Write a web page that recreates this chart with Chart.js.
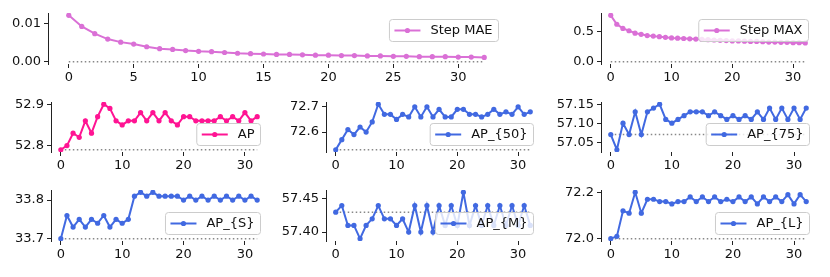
<!DOCTYPE html>
<html>
<head>
<meta charset="utf-8">
<script src="https://cdn.jsdelivr.net/npm/chart.js@4.4.0/dist/chart.umd.min.js"></script>
<style>
  html, body { margin: 0; padding: 0; background: #fff; }
  #fig { position: relative; width: 830px; height: 277px; overflow: hidden; }
  #fig canvas { position: absolute; }
</style>
</head>
<body>
<div id="fig"></div>
<script>
const steps = [0, 1, 2, 3, 4, 5, 6, 7, 8, 9, 10, 11, 12, 13, 14, 15, 16,
  17, 18, 19, 20, 21, 22, 23, 24, 25, 26, 27, 28, 29, 30, 31, 32];

const stepMae = [0.0121, 0.0092, 0.0073, 0.0059, 0.0051, 0.0046, 0.0039, 0.0034, 0.0032, 0.0029, 0.0027,
  0.0026, 0.0024, 0.0022, 0.0021, 0.0020, 0.0019, 0.0019, 0.0018, 0.0017, 0.0017, 0.0016,
  0.0016, 0.0015, 0.0015, 0.0014, 0.0014, 0.0013, 0.0013, 0.0013, 0.0012, 0.0012, 0.0011];
const stepMax = [0.78, 0.63, 0.56, 0.52, 0.48, 0.46, 0.44, 0.43, 0.42, 0.41, 0.40,
  0.395, 0.39, 0.385, 0.38, 0.375, 0.37, 0.365, 0.36, 0.355, 0.35, 0.35,
  0.345, 0.34, 0.34, 0.335, 0.33, 0.33, 0.325, 0.325, 0.32, 0.32, 0.315];
const ap = [52.79, 52.80, 52.83, 52.82, 52.86, 52.83, 52.87, 52.90, 52.89, 52.86, 52.85,
  52.86, 52.86, 52.88, 52.86, 52.88, 52.86, 52.88, 52.86, 52.85, 52.87, 52.87,
  52.86, 52.86, 52.86, 52.86, 52.87, 52.86, 52.87, 52.86, 52.88, 52.86, 52.87];
const ap50 = [72.53, 72.57, 72.61, 72.59, 72.62, 72.60, 72.64, 72.71, 72.67, 72.67, 72.65,
  72.67, 72.66, 72.70, 72.66, 72.70, 72.66, 72.69, 72.66, 72.66, 72.69, 72.69,
  72.67, 72.67, 72.66, 72.67, 72.69, 72.67, 72.68, 72.67, 72.70, 72.67, 72.68];
const ap75 = [57.07, 57.03, 57.10, 57.07, 57.13, 57.07, 57.13, 57.14, 57.15, 57.11, 57.10,
  57.11, 57.12, 57.13, 57.13, 57.13, 57.12, 57.13, 57.12, 57.11, 57.12, 57.11,
  57.12, 57.11, 57.13, 57.11, 57.14, 57.11, 57.14, 57.11, 57.14, 57.11, 57.14];
const apS = [33.70, 33.76, 33.73, 33.75, 33.73, 33.75, 33.74, 33.76, 33.73, 33.75, 33.74,
  33.75, 33.81, 33.82, 33.81, 33.82, 33.81, 33.81, 33.81, 33.81, 33.80, 33.81,
  33.80, 33.81, 33.80, 33.81, 33.80, 33.81, 33.80, 33.81, 33.80, 33.81, 33.80];
const apM = [57.43, 57.44, 57.41, 57.41, 57.39, 57.41, 57.42, 57.44, 57.42, 57.42, 57.41,
  57.42, 57.40, 57.44, 57.40, 57.44, 57.40, 57.44, 57.41, 57.44, 57.41, 57.46,
  57.41, 57.44, 57.41, 57.44, 57.41, 57.44, 57.41, 57.44, 57.41, 57.44, 57.41];
const apL = [72.00, 72.01, 72.12, 72.11, 72.20, 72.11, 72.17, 72.17, 72.16, 72.16, 72.15,
  72.16, 72.16, 72.18, 72.16, 72.18, 72.16, 72.18, 72.16, 72.17, 72.16, 72.18,
  72.16, 72.18, 72.15, 72.18, 72.16, 72.18, 72.16, 72.19, 72.15, 72.19, 72.16];

// tick labels
const maeYTicks = ["0.00", "0.01"];
const maxYTicks = ["0.0", "0.5"];
const apYTicks = ["52.8", "52.9"];
const ap50YTicks = ["72.6", "72.7"];
const ap75YTicks = ["57.05", "57.10", "57.15"];
const apSYTicks = ["33.7", "33.8"];
const apMYTicks = ["57.40", "57.45"];
const apLYTicks = ["72.0", "72.2"];
const maeXTicks = ["0", "5", "10", "15", "20", "25", "30"];
const xTicks = ["0", "10", "20", "30"];

const FONT = "DejaVu Sans";
const ORCHID = "#da70d6", PINK = "#ff1493", BLUE = "#4169e1";

// legend drawn inside the axes, like matplotlib's
const insetLegend = {
  id: "insetLegend",
  afterDatasetsDraw(chart, args, opts) {
    const { ctx, chartArea: a } = chart;
    const ds = chart.data.datasets[0];
    ctx.save();
    ctx.font = "13px '" + FONT + "'";
    const tw = ctx.measureText(ds.label).width;
    const w = 5 + 26 + 10 + tw + 6, h = 22, pad = 6.5;
    const x = a.right - pad - w;
    const y = opts.loc === "upper" ? a.top + pad : a.bottom - pad - h;
    ctx.beginPath();
    ctx.roundRect(x, y, w, h, 3);
    ctx.fillStyle = "rgba(255,255,255,0.8)";
    ctx.fill();
    ctx.strokeStyle = "#cccccc";
    ctx.lineWidth = 1;
    ctx.stroke();
    const cy = y + h / 2;
    ctx.beginPath();
    ctx.moveTo(x + 5, cy);
    ctx.lineTo(x + 31, cy);
    ctx.strokeStyle = ds.borderColor;
    ctx.lineWidth = 2;
    ctx.stroke();
    ctx.beginPath();
    ctx.arc(x + 18, cy, 2.6, 0, Math.PI * 2);
    ctx.fillStyle = ds.borderColor;
    ctx.fill();
    ctx.fillStyle = "#111";
    ctx.textBaseline = "middle";
    ctx.fillText(ds.label, x + 41, cy + 0.5);
    ctx.restore();
  },
};

const panels = [
  { label: "Step MAE", values: stepMae, color: ORCHID, base: 0, yt: maeYTicks, xt: maeXTicks, box: [48, 13, 505, 64], loc: "upper" },
  { label: "Step MAX", values: stepMax, color: ORCHID, base: 0, yt: maxYTicks, xt: xTicks, box: [601, 13, 815, 64], loc: "upper" },
  { label: "AP", values: ap, color: PINK, yt: apYTicks, xt: xTicks, box: [51, 102, 267, 152], loc: "lower" },
  { label: "AP_{50}", values: ap50, color: BLUE, yt: ap50YTicks, xt: xTicks, box: [326, 102, 540, 152], loc: "lower" },
  { label: "AP_{75}", values: ap75, color: BLUE, yt: ap75YTicks, xt: xTicks, box: [601, 102, 816, 152], loc: "lower" },
  { label: "AP_{S}", values: apS, color: BLUE, yt: apSYTicks, xt: xTicks, box: [51, 190, 267, 241], loc: "lower" },
  { label: "AP_{M}", values: apM, color: BLUE, yt: apMYTicks, xt: xTicks, box: [326, 190, 540, 241], loc: "lower" },
  { label: "AP_{L}", values: apL, color: BLUE, yt: apLYTicks, xt: xTicks, box: [601, 190, 816, 241], loc: "lower" },
];

const fig = document.getElementById("fig");
const YW = 46, PT = 12, PR = 12, XH = 30;

function makePanel(p) {
  const [l, t, r, b] = p.box;
  const canvas = document.createElement("canvas");
  canvas.width = YW + (r - l) + PR;
  canvas.height = PT + (b - t) + XH;
  canvas.style.left = (l - YW) + "px";
  canvas.style.top = (t - PT) + "px";
  fig.appendChild(canvas);

  // baseline: zero for the step errors, first epoch for the APs
  const base = p.base !== undefined ? p.base : p.values[0];
  const lo = Math.min(base, ...p.values), hi = Math.max(base, ...p.values);
  const ym = (hi - lo) * 0.05;
  const x0 = steps[0], x1 = steps[steps.length - 1];
  const xm = (x1 - x0) * 0.05;

  const tickFont = { family: FONT, size: 13 };
  const tickGrid = { display: true, drawOnChartArea: false, drawTicks: true, tickLength: 4, color: "#222", lineWidth: 1 };

  return new Chart(canvas, {
    type: "line",
    data: {
      datasets: [
        {
          label: p.label,
          data: p.values.map((v, i) => ({ x: steps[i], y: v })),
          borderColor: p.color,
          backgroundColor: p.color,
          borderWidth: 2,
          pointRadius: 2.6,
          pointBorderWidth: 0,
          pointBackgroundColor: p.color,
          tension: 0,
        },
        {
          label: "base",
          data: [{ x: x0, y: base }, { x: x1, y: base }],
          borderColor: "#888",
          borderWidth: 1.5,
          borderDash: [1.5, 2.5],
          pointRadius: 0,
        },
      ],
    },
    options: {
      responsive: false,
      animation: false,
      layout: { padding: { top: PT, right: PR, left: 0, bottom: 0 } },
      plugins: {
        legend: { display: false },
        tooltip: { enabled: false },
        insetLegend: { loc: p.loc },
      },
      scales: {
        x: {
          type: "linear",
          min: x0 - xm,
          max: x1 + xm,
          afterFit: (s) => { s.height = XH; },
          afterBuildTicks: (s) => { s.ticks = p.xt.map((v) => ({ value: parseFloat(v) })); },
          ticks: { callback: (v, i) => p.xt[i], autoSkip: false, maxRotation: 0, padding: 2, color: "#111", font: tickFont },
          grid: tickGrid,
          border: { display: false },
        },
        y: {
          type: "linear",
          min: lo - ym,
          max: hi + ym,
          afterFit: (s) => { s.width = YW; },
          afterBuildTicks: (s) => { s.ticks = p.yt.map((v) => ({ value: parseFloat(v) })); },
          ticks: { callback: (v, i) => p.yt[i], autoSkip: false, padding: 3, color: "#111", font: tickFont },
          grid: tickGrid,
          border: { display: true, color: "#222", width: 1 },
        },
      },
    },
    plugins: [insetLegend],
  });
}

panels.forEach(makePanel);
</script>
</body>
</html>
